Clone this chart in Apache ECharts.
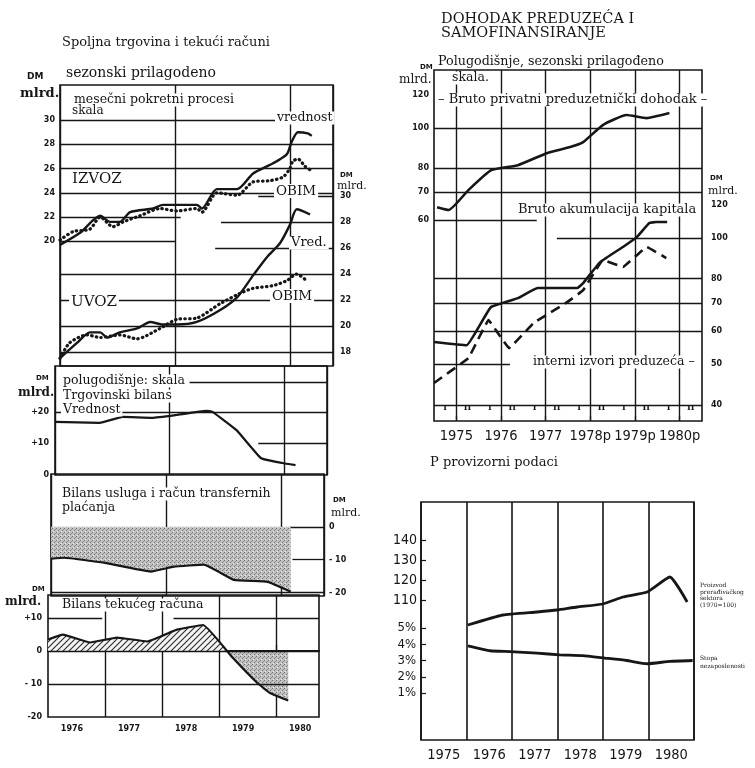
<!DOCTYPE html>
<html>
<head>
<meta charset="utf-8">
<script src="https://cdn.jsdelivr.net/npm/echarts@6.0.0/dist/echarts.min.js"></script>
<style>
html,body{margin:0;padding:0;background:#fff;}
#c{width:755px;height:768px;}
</style>
</head>
<body>
<div id="c"></div>
<script>
// ================= LEFT: Spoljna trgovina i tekući računi =================
const exportValueYear = [1976.0, 1976.35, 1976.7, 1976.87, 1977.04, 1977.22, 1977.62, 1977.79, 1978.38, 1978.47, 1978.73, 1979.08, 1979.36, 1979.65, 1979.77, 1979.95, 1980.03, 1980.14, 1980.31, 1980.38];
const exportValue     = [19.7, 20.7, 22.1, 21.6, 21.6, 22.4, 22.7, 23.0, 23.0, 22.7, 24.3, 24.3, 25.6, 26.3, 26.6, 27.2, 28.2, 29.0, 28.9, 28.7];
const exportVolumeYear = [1976.0, 1976.23, 1976.52, 1976.7, 1976.92, 1977.1, 1977.39, 1977.74, 1978.03, 1978.38, 1978.47, 1978.73, 1979.08, 1979.36, 1979.65, 1979.88, 1980.0, 1980.05, 1980.14, 1980.26, 1980.35];
const exportVolume     = [20.1, 20.8, 21.0, 22.0, 21.2, 21.6, 22.1, 22.7, 22.5, 22.7, 22.4, 24.0, 23.8, 24.9, 25.0, 25.3, 26.0, 26.6, 26.8, 26.2, 25.9];
const importValueYear = [1976.0, 1976.3, 1976.52, 1976.7, 1976.82, 1977.04, 1977.34, 1977.57, 1977.79, 1978.03, 1978.38, 1978.78, 1979.08, 1979.36, 1979.6, 1979.83, 1980.0, 1980.12, 1980.35];
const importValue     = [17.5, 18.7, 19.5, 19.5, 19.1, 19.5, 19.8, 20.3, 20.1, 20.1, 20.3, 21.2, 22.2, 23.9, 25.3, 26.4, 27.8, 29.0, 28.6];
const importVolumeYear = [1976.0, 1976.17, 1976.47, 1976.7, 1977.04, 1977.34, 1977.74, 1978.03, 1978.38, 1978.78, 1979.08, 1979.36, 1979.7, 1979.95, 1980.12, 1980.31];
const importVolume     = [17.5, 18.7, 19.3, 19.1, 19.3, 19.0, 19.8, 20.5, 20.6, 21.7, 22.4, 22.9, 23.1, 23.5, 24.0, 23.4];
const tradeBalanceYear = [1976.0, 1976.78, 1977.18, 1977.7, 1978.12, 1978.64, 1978.75, 1979.17, 1979.6, 1979.97, 1980.2];
const tradeBalance     = [16.8, 16.5, 18.4, 18.1, 19.0, 20.3, 20.0, 14.2, 5.3, 3.8, 3.1];
const servicesYear    = [1976.0, 1976.23, 1976.92, 1977.74, 1978.14, 1978.66, 1979.18, 1979.77, 1980.17];
const servicesBalance = [-9.7, -9.4, -10.9, -13.6, -12.1, -11.5, -16.1, -16.7, -19.7];
const currentAccountYear = [1976.0, 1976.26, 1976.74, 1977.21, 1977.74, 1978.26, 1978.72, 1979.23, 1979.67, 1979.9, 1980.21];
const currentAccount     = [3.5, 5.0, 2.6, 4.1, 2.9, 6.5, 7.9, -1.9, -9.7, -12.8, -15.0];

const exportAxisTicks = [20, 22, 24, 26, 28, 30];
const importAxisTicks = [18, 20, 22, 24, 26, 28, 30];
const tradeAxisTicks = [0, 10, 20];
const tradeAxisLabels = ['0', '+10', '+20'];
const servicesAxisTicks = [0, -10, -20];
const servicesAxisLabels = ['0', '- 10', '- 20'];
const currentAxisTicks = [10, 0, -10, -20];
const currentAxisLabels = ['+10', '0', '- 10', '-20'];
const leftYears = ['1976', '1977', '1978', '1979', '1980'];

// ================= RIGHT TOP: Dohodak preduzeća i samofinansiranje =================
const incomeYear = [1975.07, 1975.33, 1975.77, 1976.28, 1976.88, 1977.54, 1978.05, 1978.34, 1978.78, 1979.31, 1979.76, 1980.27];
const income     = [64.5, 63.5, 70.9, 79.2, 81.4, 87.1, 90.0, 92.5, 101.7, 107.5, 105.7, 108.7];
const capitalYear = [1975.0, 1975.73, 1976.0, 1976.28, 1976.88, 1977.32, 1978.21, 1978.34, 1978.72, 1979.23, 1979.54, 1979.82, 1979.98, 1980.22];
const capital     = [56.5, 55.5, 61.3, 68.5, 71.9, 76.0, 76.0, 78.1, 87.6, 95.2, 100.5, 108.6, 109.2, 109.2];
const internalYear = [1975.0, 1975.77, 1976.22, 1976.68, 1977.23, 1977.99, 1978.34, 1978.78, 1979.23, 1979.76, 1980.2];
const internal     = [45.1, 51.7, 63.7, 54.6, 62.7, 70.4, 75.1, 88.6, 85.3, 95.2, 89.6];
const incomeAxisTicks = [60, 70, 80, 100, 120];
const capitalAxisTicks = [40, 50, 60, 70, 80, 100, 120];
const rightYears = ['1975', '1976', '1977', '1978p', '1979p', '1980p'];
const halfYearLabels = ['I', 'II'];

// ================= RIGHT BOTTOM =================
const productionYear = [1976.03, 1976.8, 1977.55, 1977.99, 1978.43, 1979.0, 1979.44, 1979.97, 1980.47, 1980.85];
const production     = [97.5, 102.5, 104, 105, 106.5, 108, 111.5, 114, 121.5, 109];
const unemploymentYear = [1976.03, 1976.52, 1976.96, 1977.55, 1978.05, 1978.55, 1979.04, 1979.52, 1979.97, 1980.47, 1980.97];
const unemployment     = [3.9, 3.6, 3.55, 3.45, 3.35, 3.3, 3.15, 3.0, 2.8, 2.95, 3.0];
const indexAxisTicks = [110, 120, 130, 140];
const percentAxisTicks = [1, 2, 3, 4, 5];
const bottomYears = ['1975', '1976', '1977', '1978', '1979', '1980'];

// ================= helpers =================
const INK = '#161616';
const SERIF = '"DejaVu Serif", "Liberation Serif", serif';
const SANS = '"DejaVu Sans", "Liberation Sans", sans-serif';
const NARROW = '"DejaVu Sans Condensed", "Liberation Sans Narrow", "DejaVu Sans", sans-serif';

function pairs(xs, ys) { return xs.map((x, i) => [x, ys[i]]); }

function makePattern(kind) {
  const c = document.createElement('canvas');
  if (kind === 'hatch') {
    c.width = 6; c.height = 6;
    const g = c.getContext('2d');
    g.fillStyle = '#f4f4f4'; g.fillRect(0, 0, 6, 6);
    g.strokeStyle = '#2a2a2a'; g.lineWidth = 1.1;
    g.beginPath();
    g.moveTo(0, 6); g.lineTo(6, 0);
    g.moveTo(-1, 1); g.lineTo(1, -1);
    g.moveTo(5, 7); g.lineTo(7, 5);
    g.stroke();
  } else {
    c.width = 4; c.height = 4;
    const g = c.getContext('2d');
    g.fillStyle = '#c2c2c2'; g.fillRect(0, 0, 4, 4);
    g.fillStyle = '#6f6f6f'; g.fillRect(0, 0, 1, 1); g.fillRect(2, 2, 1, 1);
    g.fillStyle = '#939393'; g.fillRect(3, 1, 1, 1);
    g.fillStyle = '#e6e6e6'; g.fillRect(1, 3, 1, 1);
  }
  return { image: c, repeat: 'repeat' };
}

function gridLines(items) {
  return {
    silent: true, symbol: ['none', 'none'], animation: false,
    label: { show: false }, emphasis: { disabled: true },
    lineStyle: { color: INK, width: 1.3, type: 'solid' },
    data: items.map(it => Array.isArray(it)
      ? [{ coord: [it[0], it[2]] }, { coord: [it[1], it[2]] }]
      : { yAxis: it })
  };
}

function lineSeries(name, xi, yi, data, style, extra) {
  return Object.assign({
    type: 'line', name, xAxisIndex: xi, yAxisIndex: yi, data,
    symbol: 'none', showSymbol: false, smooth: 0.25, animation: false,
    lineStyle: Object.assign({ color: INK, width: 2.4 }, style),
    emphasis: { disabled: true }, z: 5
  }, extra || {});
}

const numFont = { fontFamily: SANS, fontWeight: 'bold', fontSize: 8, color: INK };

function lookup(ticks, labels) {
  return v => { const i = ticks.findIndex(t => Math.abs(t - v) < 1e-6); return i >= 0 ? labels[i] : ''; };
}

function yAx(gridIndex, opts) {
  return Object.assign({
    type: 'value', gridIndex,
    splitLine: { show: false }, axisLine: { show: false },
    axisTick: { show: false }, axisLabel: { show: false }
  }, opts);
}

function xLeft(gridIndex, extra) {
  return Object.assign({
    type: 'value', gridIndex, min: 1976, max: 1980.75, interval: 2,
    axisLine: { show: false }, axisTick: { show: false }, axisLabel: { show: false },
    splitLine: { show: true, lineStyle: { color: INK, width: 1.4 } }
  }, extra || {});
}

const box = { show: true, borderColor: INK, borderWidth: 1.6, backgroundColor: 'transparent' };

function T(text, x, y, size, opts) {
  opts = opts || {};
  return {
    type: 'text', x, y, z: 100, silent: true,
    style: Object.assign({
      text, fill: INK,
      font: (opts.weight || 'normal') + ' ' + size + 'px ' + (opts.family || SERIF),
      align: opts.align || 'left', verticalAlign: 'middle',
      backgroundColor: opts.bg ? '#fff' : undefined,
      padding: opts.bg ? [0, 2, 0, 2] : 0
    }, opts.style || {})
  };
}

// ================= option =================
const option = {
  animation: false,
  backgroundColor: '#fff',
  grid: [
    Object.assign({ left: 60, top: 85, width: 273, height: 281 }, box),       // 0 A
    Object.assign({ left: 55, top: 366, width: 272, height: 109 }, box),      // 1 B
    Object.assign({ left: 51, top: 474, width: 273, height: 122 }, box),      // 2 C
    Object.assign({ left: 48, top: 595, width: 271, height: 122 }, box),      // 3 D
    { left: 48, top: 595, width: 271, height: 56.054, show: false },         // 4 D positive
    { left: 48, top: 651.054, width: 271, height: 65.946, show: false },     // 5 D negative
    Object.assign({ left: 434, top: 70, width: 268, height: 351 }, box),      // 6 R1
    Object.assign({ left: 421, top: 502, width: 273, height: 238 }, box)      // 7 R2
  ],
  xAxis: [
    xLeft(0), xLeft(1), xLeft(2),
    xLeft(3, {
      axisLine: { show: true, lineStyle: { color: INK, width: 2.2 } },
      axisTick: { show: true, inside: true, length: 6, customValues: [1977, 1978, 1979, 1980], lineStyle: { color: INK, width: 1.3 } },
      axisLabel: Object.assign({ show: true, margin: 8, customValues: leftYears.map((y, i) => 1976.42 + i),
        formatter: v => leftYears[Math.floor(v) - 1976] }, numFont)
    }),
    xLeft(4, { show: false }), xLeft(5, { show: false }),
    { type: 'value', gridIndex: 6, min: 1975, max: 1981, interval: 1,
      axisLine: { show: false },
      axisTick: { show: true, inside: true, length: 5, customValues: rightYears.map((y, i) => 1975.5 + i), lineStyle: { color: INK, width: 1.3 } },
      axisLabel: { show: true, margin: 8, customValues: rightYears.map((y, i) => 1975.5 + i),
        formatter: v => rightYears[Math.floor(v) - 1975], fontFamily: NARROW, fontSize: 14.5, color: INK },
      splitLine: { show: true, lineStyle: { color: INK, width: 1.4 } } },
    { type: 'value', gridIndex: 6, min: 1975, max: 1981, position: 'bottom',
      axisLine: { show: false }, axisTick: { show: false }, splitLine: { show: false },
      axisLabel: { show: true, inside: true, margin: 9,
        customValues: rightYears.flatMap((y, i) => [1975.25 + i, 1975.75 + i]),
        formatter: v => halfYearLabels[(v - Math.floor(v)) < 0.5 ? 0 : 1],
        fontFamily: SERIF, fontWeight: 'bold', fontSize: 8, color: INK } },
    { type: 'value', gridIndex: 7, min: 1975, max: 1981, interval: 1,
      axisLine: { show: false }, axisTick: { show: false },
      axisLabel: { show: true, margin: 8, customValues: bottomYears.map((y, i) => 1975.5 + i),
        formatter: v => bottomYears[Math.floor(v) - 1975], fontFamily: NARROW, fontSize: 14.5, color: INK },
      splitLine: { show: true, lineStyle: { color: INK, width: 1.6 } } }
  ],
  yAxis: [
    yAx(0, { min: 9.7, max: 32.9, position: 'left',
      axisLabel: Object.assign({ show: true, margin: 5, customValues: exportAxisTicks }, numFont) }),
    yAx(0, { min: 16.9, max: 38.6, position: 'right',
      axisLabel: Object.assign({ show: true, margin: 7, customValues: importAxisTicks }, numFont) }),
    yAx(1, { min: 0, max: 34.5, position: 'left',
      axisLabel: Object.assign({ show: true, margin: 6, customValues: tradeAxisTicks, formatter: lookup(tradeAxisTicks, tradeAxisLabels) }, numFont) }),
    yAx(2, { min: -21, max: 16, position: 'right',
      axisLabel: Object.assign({ show: true, margin: 5, customValues: servicesAxisTicks, formatter: lookup(servicesAxisTicks, servicesAxisLabels) }, numFont) }),
    yAx(3, { min: -20, max: 17, position: 'left',
      axisLabel: Object.assign({ show: true, margin: 6, customValues: currentAxisTicks, formatter: lookup(currentAxisTicks, currentAxisLabels) }, numFont) }),
    yAx(4, { min: 0, max: 17, show: false }),
    yAx(5, { min: -20, max: 0, show: false }),
    yAx(6, { type: 'log', logBase: 10, min: 19.7, max: 138, position: 'left',
      axisLabel: Object.assign({ show: true, margin: 5, customValues: incomeAxisTicks }, numFont) }),
    yAx(6, { type: 'log', logBase: 10, min: 36.6, max: 251.7, position: 'right',
      axisLabel: Object.assign({ show: true, margin: 9, customValues: capitalAxisTicks }, numFont) }),
    yAx(7, { min: 40, max: 159, position: 'left',
      axisTick: { show: true, inside: true, length: 5, customValues: indexAxisTicks, lineStyle: { color: INK, width: 1.2 } },
      axisLabel: { show: true, margin: 4, customValues: indexAxisTicks, fontFamily: NARROW, fontSize: 14, color: INK } }),
    yAx(7, { min: -1.892, max: 12.754, position: 'left',
      axisTick: { show: true, inside: true, length: 5, customValues: percentAxisTicks, lineStyle: { color: INK, width: 1.2 } },
      axisLabel: { show: true, margin: 5, customValues: percentAxisTicks, formatter: v => v + '%', fontFamily: NARROW, fontSize: 13, color: INK } })
  ],
  series: [
    // ---- panel A: exports / imports ----
    lineSeries('Izvoz vrednost', 0, 0, pairs(exportValueYear, exportValue), {}, {
      markLine: gridLines([24, 26, 28, 30, [1976, 1978.1, 22], [1976, 1978.0, 20]]) }),
    lineSeries('Izvoz obim', 0, 0, pairs(exportVolumeYear, exportVolume), { type: [0.5, 4.2], cap: 'round', width: 3.2 }),
    lineSeries('Uvoz vrednost', 0, 1, pairs(importValueYear, importValue), {}, {
      markLine: gridLines([18, 20, 22, 24, [1978.7, 1980.75, 26], [1978.8, 1980.75, 28], [1979.45, 1980.75, 30]]) }),
    lineSeries('Uvoz obim', 0, 1, pairs(importVolumeYear, importVolume), { type: [0.5, 4.2], cap: 'round', width: 3.2 }),
    // ---- panel B: trade balance ----
    lineSeries('Trgovinski bilans', 1, 2, pairs(tradeBalanceYear, tradeBalance), { width: 2.2 }, {
      smooth: 0.1, markLine: gridLines([20, [1979.55, 1980.75, 10], [1978.35, 1980.75, 29.5]]) }),
    // ---- panel C: services & transfers ----
    lineSeries('Bilans usluga', 2, 3, pairs(servicesYear, servicesBalance), { width: 2.2 }, {
      smooth: 0.1, areaStyle: { color: makePattern('dots'), opacity: 1, origin: 'auto' },
      markLine: gridLines([-20, [1980.15, 1980.75, 0], [1980.2, 1980.75, -10]]) }),
    // ---- panel D: current account ----
    lineSeries('Tekući račun plus', 4, 5, pairs(currentAccountYear, currentAccount), { width: 0, opacity: 0 }, {
      smooth: 0.1, clip: true, z: 3, areaStyle: { color: makePattern('hatch'), opacity: 1, origin: 'start' } }),
    lineSeries('Tekući račun minus', 5, 6, pairs(currentAccountYear, currentAccount), { width: 0, opacity: 0 }, {
      smooth: 0.1, clip: true, z: 3, areaStyle: { color: makePattern('dots'), opacity: 1, origin: 'end' } }),
    lineSeries('Bilans tekućeg računa', 3, 4, pairs(currentAccountYear, currentAccount), { width: 2.2 }, {
      smooth: 0.1, markLine: gridLines([0, -10, [1976, 1976.95, 10], [1978.2, 1980.75, 10]]) }),
    // ---- right top ----
    lineSeries('Bruto privatni preduzetnički dohodak', 6, 7, pairs(incomeYear, income), { width: 2.6 }, {
      smooth: 0.15, markLine: gridLines([100, 80, 70, [1975, 1977.3, 60]]) }),
    lineSeries('Bruto akumulacija kapitala', 6, 8, pairs(capitalYear, capital), { width: 2.6 }, {
      smooth: 0.1, markLine: gridLines([80, 70, 60, 40, [1977.75, 1981, 100], [1975, 1976.7, 50]]) }),
    lineSeries('Interni izvori preduzeća', 6, 8, pairs(internalYear, internal), { width: 2.6, type: [10, 6] }, { smooth: 0.05 }),
    // ---- right bottom ----
    lineSeries('Proizvod prerađivačkog sektora', 8, 9, pairs(productionYear, production), { width: 2.8 }, { smooth: 0.15 }),
    lineSeries('Stopa nezaposlenosti', 8, 10, pairs(unemploymentYear, unemployment), { width: 2.8 }, { smooth: 0.15 })
  ],
  graphic: { elements: [
    // left panel texts
    T('Spoljna trgovina i tekući računi', 62, 43, 13),
    T('sezonski prilagodeno', 66, 73, 14),
    T('DM', 27, 77, 9, { weight: 'bold', family: SANS }),
    T('mlrd.', 20, 94, 13, { weight: 'bold' }),
    T('mesečni pokretni procesi', 72, 100, 12.5, { bg: true }),
    T('skala', 72, 111, 12),
    T('vrednost', 275, 118, 12.5, { bg: true }),
    T('IZVOZ', 70, 179, 15, { bg: true }),
    T('OBIM', 274, 191, 13.5, { bg: true }),
    T('DM', 340, 175, 7, { weight: 'bold', family: SANS }),
    T('mlrd.', 337, 186, 11),
    T('Vred.', 289, 243, 13, { bg: true }),
    T('UVOZ', 69, 302, 15, { bg: true }),
    T('OBIM', 270, 296, 13.5, { bg: true }),
    T('polugodišnje: skala', 61, 381, 12.5, { bg: true }),
    T('DM', 36, 378, 7, { weight: 'bold', family: SANS }),
    T('mlrd.', 18, 393, 12, { weight: 'bold' }),
    T('Trgovinski bilans', 61, 396, 12.5, { bg: true }),
    T('Vrednost', 61, 410, 12.5, { bg: true }),
    T('Bilans usluga i račun transfernih', 60, 494, 12.5, { bg: true }),
    T('plaćanja', 60, 508, 12.5, { bg: true }),
    T('DM', 333, 500, 7, { weight: 'bold', family: SANS }),
    T('mlrd.', 331, 513, 11),
    T('DM', 32, 589, 7, { weight: 'bold', family: SANS }),
    T('mlrd.', 5, 602, 12, { weight: 'bold' }),
    T('Bilans tekućeg računa', 60, 605, 12.5, { bg: true }),
    // right top texts
    T('DOHODAK PREDUZEĆA I', 441, 19, 14.5),
    T('SAMOFINANSIRANJE', 441, 33, 14.5),
    T('Polugodišnje, sezonski prilagođeno', 438, 62, 12.7),
    T('DM', 420, 67, 7, { weight: 'bold', family: SANS }),
    T('mlrd.', 399, 80, 12),
    T('skala.', 450, 78, 12.5, { bg: true }),
    T('– Bruto privatni preduzetnički dohodak –', 436, 100, 13, { bg: true }),
    T('Bruto akumulacija kapitala', 516, 210, 13, { bg: true }),
    T('DM', 710, 178, 7, { weight: 'bold', family: SANS }),
    T('mlrd.', 708, 191, 11),
    T('interni izvori preduzeća –', 531, 362, 12.5, { bg: true }),
    T('P provizorni podaci', 430, 463, 13),
    // right bottom texts
    T('Proizvod', 700, 585, 6),
    T('prerađivačkog', 700, 592, 6),
    T('sektora', 700, 598.5, 6),
    T('(1970=100)', 700, 605.5, 6),
    T('Stopa', 700, 658, 6),
    T('nezaposlenosti', 700, 666, 6)
  ] }
};

const chart = echarts.init(document.getElementById('c'), null, { renderer: 'canvas', width: 755, height: 768 });
chart.setOption(option);
</script>
</body>
</html>
